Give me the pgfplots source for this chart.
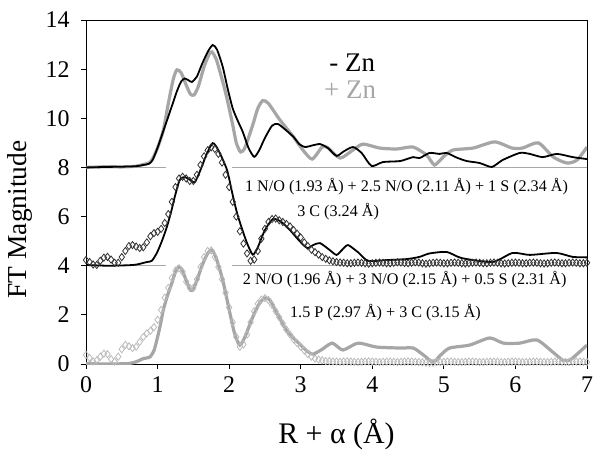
\documentclass[border=0pt]{standalone}
\usepackage{pgfplots}
\pgfplotsset{compat=1.18}
\usepackage{fontspec}
\setmainfont{Liberation Serif}

\definecolor{lgray}{HTML}{A6A6A6}
\definecolor{dgray}{HTML}{333333}
\definecolor{pgray}{HTML}{BBBBBB}

% -Zn, shifted by 8
\pgfplotstableread{
x y
0 8.0
0.3 8.02
0.5 8.03
0.7 8.05
0.8 8.1
0.88 8.15
0.93 8.3
1.0 8.8
1.07 9.4
1.13 9.9
1.2 10.5
1.27 11.1
1.33 11.5
1.38 11.62
1.43 11.55
1.48 11.48
1.55 11.7
1.62 12.2
1.7 12.7
1.77 12.98
1.83 12.8
1.91 12.1
1.98 11.2
2.05 10.4
2.12 9.9
2.19 9.45
2.27 8.8
2.35 8.43
2.42 8.7
2.5 9.2
2.6 9.7
2.68 9.77
2.78 9.55
2.9 9.24
2.98 8.95
3.06 8.83
3.17 8.9
3.27 8.95
3.38 8.79
3.5 8.47
3.6 8.65
3.73 8.83
3.85 8.59
3.99 8.06
4.15 8.22
4.39 8.26
4.57 8.42
4.66 8.38
4.8 8.59
4.94 8.55
5.04 8.59
5.18 8.4
5.32 8.26
5.5 8.18
5.67 8.02
5.82 8.3
6.06 8.59
6.2 8.55
6.38 8.42
6.58 8.55
6.8 8.42
7.0 8.34
}\minusZn

% +Zn, shifted by 8
\pgfplotstableread{
x y
0 8.0
0.3 8.03
0.5 8.02
0.7 8.05
0.8 8.12
0.88 8.18
0.93 8.35
1.0 8.8
1.08 9.5
1.15 10.6
1.22 11.6
1.27 11.97
1.33 11.85
1.4 11.35
1.46 10.98
1.51 10.95
1.57 11.3
1.65 12.1
1.72 12.6
1.76 12.7
1.82 12.4
1.9 11.6
1.97 10.8
2.05 9.73
2.1 9.0
2.16 8.63
2.22 8.8
2.33 9.73
2.4 10.4
2.47 10.72
2.55 10.6
2.71 9.93
2.9 9.24
3.03 8.71
3.16 8.34
3.3 8.83
3.38 8.8
3.55 8.38
3.73 8.71
3.87 8.95
4.1 8.79
4.34 8.75
4.57 8.83
4.76 8.5
4.87 8.1
5.0 8.45
5.13 8.71
5.41 8.79
5.71 9.04
5.95 8.79
6.1 8.79
6.32 9.0
6.53 8.42
6.72 8.18
6.86 8.3
7.0 8.83
}\plusZn

% -Zn fit, shifted by 4
\pgfplotstableread{
x y
0 4.03
0.3 4.0
0.6 4.02
0.71 4.05
0.85 4.15
0.92 4.2
0.99 4.52
1.06 5.0
1.13 5.58
1.19 6.2
1.24 6.8
1.31 7.5
1.38 7.61
1.45 7.5
1.52 7.4
1.6 7.9
1.68 8.5
1.77 8.99
1.85 8.7
1.97 7.9
2.04 7.0
2.11 6.15
2.18 5.5
2.25 4.92
2.33 4.45
2.4 4.75
2.5 5.45
2.61 5.9
2.72 5.8
2.85 5.45
2.97 5.05
3.09 4.72
3.18 4.85
3.27 4.92
3.4 4.65
3.5 4.44
3.58 4.65
3.66 4.84
3.8 4.55
3.94 4.2
4.2 4.23
4.48 4.27
4.66 4.36
4.8 4.5
5.04 4.56
5.25 4.31
5.68 4.15
5.96 4.52
6.2 4.44
6.57 4.52
6.8 4.36
7.0 4.34
}\minusFit

% -Zn data, shifted by 4
\pgfplotstableread{
x y
0.00 4.23
0.05 4.15
0.10 4.05
0.15 4.03
0.20 4.2
0.25 4.33
0.30 4.36
0.35 4.25
0.40 4.12
0.45 4.12
0.50 4.35
0.55 4.6
0.60 4.8
0.65 4.84
0.70 4.78
0.75 4.72
0.80 4.75
0.85 4.95
0.90 5.2
0.95 5.33
1.00 5.38
1.05 5.5
1.10 5.74
1.15 6.1
1.20 6.6
1.25 7.2
1.30 7.55
1.35 7.62
1.40 7.55
1.45 7.45
1.50 7.45
1.55 7.7
1.60 8.1
1.65 8.45
1.70 8.7
1.75 8.82
1.80 8.75
1.85 8.55
1.90 8.2
1.95 7.7
2.00 7.2
2.05 6.6
2.10 6.0
2.15 5.4
2.20 4.9
2.25 4.5
2.30 4.2
2.35 4.25
2.40 4.6
2.45 5.1
2.50 5.5
2.55 5.78
2.60 5.9
2.65 5.92
2.70 5.85
2.75 5.78
2.80 5.7
2.85 5.6
2.90 5.45
2.95 5.3
3.00 5.15
3.05 4.95
3.10 4.8
3.15 4.65
3.20 4.55
3.25 4.45
3.30 4.35
3.35 4.28
3.40 4.22
3.45 4.18
3.50 4.15
3.55 4.13
3.60 4.12
3.65 4.1
3.70 4.1
3.75 4.12
3.80 4.13
3.85 4.12
3.90 4.1
3.95 4.08
4.00 4.1
4.05 4.12
4.10 4.13
4.15 4.12
4.20 4.1
4.25 4.1
4.30 4.12
4.35 4.14
4.40 4.13
4.45 4.11
4.50 4.1
4.55 4.12
4.60 4.14
4.65 4.13
4.70 4.1
4.75 4.08
4.80 4.1
4.85 4.12
4.90 4.13
4.95 4.12
5.00 4.1
5.05 4.1
5.10 4.12
5.15 4.13
5.20 4.12
5.25 4.1
5.30 4.09
5.35 4.1
5.40 4.12
5.45 4.13
5.50 4.12
5.55 4.1
5.60 4.1
5.65 4.12
5.70 4.13
5.75 4.12
5.80 4.1
5.85 4.09
5.90 4.1
5.95 4.12
6.00 4.13
6.05 4.12
6.10 4.1
6.15 4.1
6.20 4.12
6.25 4.13
6.30 4.12
6.35 4.1
6.40 4.09
6.45 4.1
6.50 4.12
6.55 4.13
6.60 4.12
6.65 4.1
6.70 4.1
6.75 4.12
6.80 4.13
6.85 4.12
6.90 4.1
6.95 4.1
7.00 4.12
}\minusData

% +Zn fit
\pgfplotstableread{
x y
0 0.02
0.3 0.0
0.6 0.02
0.71 0.1
0.8 0.22
0.89 0.28
0.95 0.55
0.99 0.98
1.04 1.6
1.08 2.2
1.14 2.8
1.2 3.3
1.25 3.75
1.29 3.95
1.34 3.85
1.4 3.4
1.45 3.05
1.49 3.0
1.55 3.4
1.62 4.0
1.7 4.5
1.76 4.64
1.82 4.3
1.91 3.42
2.01 2.08
2.08 1.2
2.15 0.77
2.22 1.1
2.33 1.91
2.42 2.45
2.5 2.69
2.57 2.6
2.68 2.0
2.8 1.38
2.9 1.05
2.99 0.8
3.08 0.55
3.17 0.4
3.3 0.6
3.44 0.85
3.59 0.57
3.8 0.85
4.06 0.69
4.39 0.65
4.57 0.65
4.7 0.4
4.85 0.08
4.95 0.35
5.08 0.65
5.36 0.77
5.64 1.06
5.83 0.85
6.06 0.85
6.3 0.98
6.52 0.49
6.66 0.16
6.76 0.16
6.88 0.45
7.0 0.77
}\plusFit

% +Zn data
\pgfplotstableread{
x y
0.00 0.37
0.05 0.25
0.10 0.1
0.15 0.15
0.20 0.3
0.25 0.42
0.30 0.4
0.35 0.2
0.40 0.1
0.45 0.3
0.50 0.6
0.55 0.78
0.60 0.72
0.65 0.65
0.70 0.7
0.75 0.9
0.80 1.1
0.85 1.25
0.90 1.35
0.95 1.5
1.00 1.8
1.05 2.2
1.10 2.7
1.15 3.1
1.20 3.5
1.25 3.8
1.30 3.9
1.35 3.75
1.40 3.35
1.45 3.1
1.50 3.1
1.55 3.45
1.60 3.95
1.65 4.35
1.70 4.6
1.75 4.62
1.80 4.35
1.85 3.95
1.90 3.45
1.95 2.9
2.00 2.3
2.05 1.7
2.10 1.1
2.15 0.7
2.20 0.8
2.25 1.2
2.30 1.7
2.35 2.15
2.40 2.45
2.45 2.62
2.50 2.68
2.55 2.6
2.60 2.4
2.65 2.15
2.70 1.9
2.75 1.65
2.80 1.4
2.85 1.2
2.90 1.0
2.95 0.85
3.00 0.7
3.05 0.55
3.10 0.4
3.15 0.3
3.20 0.22
3.25 0.18
3.30 0.15
3.35 0.12
3.40 0.12
3.45 0.1
3.50 0.1
3.55 0.09
3.60 0.1
3.65 0.11
3.70 0.1
3.75 0.09
3.80 0.08
3.85 0.09
3.90 0.1
3.95 0.11
4.00 0.1
4.05 0.09
4.10 0.08
4.15 0.09
4.20 0.1
4.25 0.1
4.30 0.09
4.35 0.08
4.40 0.09
4.45 0.1
4.50 0.11
4.55 0.1
4.60 0.09
4.65 0.08
4.70 0.07
4.75 0.06
4.80 0.05
4.85 0.05
4.90 0.07
4.95 0.08
5.00 0.09
5.05 0.1
5.10 0.1
5.15 0.09
5.20 0.08
5.25 0.08
5.30 0.09
5.35 0.1
5.40 0.1
5.45 0.09
5.50 0.08
5.55 0.08
5.60 0.09
5.65 0.1
5.70 0.1
5.75 0.09
5.80 0.08
5.85 0.08
5.90 0.09
5.95 0.1
6.00 0.1
6.05 0.09
6.10 0.08
6.15 0.08
6.20 0.09
6.25 0.1
6.30 0.1
6.35 0.09
6.40 0.08
6.45 0.08
6.50 0.09
6.55 0.1
6.60 0.1
6.65 0.09
6.70 0.08
6.75 0.08
6.80 0.09
6.85 0.1
6.90 0.1
6.95 0.09
7.00 0.08
}\plusData

\begin{document}
\begin{tikzpicture}
\begin{axis}[
    name=ax,
    width=501bp, height=344bp,
    scale only axis,
    xmin=0, xmax=7, ymin=0, ymax=14,
    xtick={0,1,...,7}, ytick={0,2,...,14},
    tick align=outside,
    xtick pos=bottom, ytick pos=left,
    major tick length=5bp,
    tick style={black, line width=0.8bp},
    axis line style={line width=0.8bp},
    /pgf/number format/assume math mode=true,
    ticklabel style={font=\fontsize{24}{26}\selectfont},
    yticklabel style={xshift=-8bp},
    xticklabel style={yshift=-4bp},
    xlabel={R + α (Å)},
    ylabel={FT Magnitude},
    xlabel style={font=\fontsize{30}{32}\selectfont, yshift=-19bp},
    ylabel style={font=\fontsize{27.5}{30}\selectfont, at={(ticklabel cs:0.42)}, yshift=6bp},
    clip=true,
]
% baselines
\addplot[lgray, line width=1.4bp] coordinates {(0,8) (1.12,8)};
\addplot[lgray, line width=1.4bp] coordinates {(2.04,8) (7,8)};
\addplot[lgray, line width=1.4bp] coordinates {(0,4) (1.12,4)};
\addplot[lgray, line width=1.4bp] coordinates {(2.04,4) (7,4)};

% top pair
\addplot[lgray, line width=3.2bp, smooth, tension=0.4] table {\plusZn};
\addplot[black, line width=1.8bp, smooth, tension=0.4] table {\minusZn};

% middle: data + fit
\addplot[only marks, mark=diamond, mark size=3.6bp,
         mark options={draw=dgray, fill=white, line width=0.8bp}] table {\minusData};
\addplot[black, line width=1.8bp, smooth, tension=0.4] table {\minusFit};

% bottom: data + fit
\addplot[only marks, mark=diamond, mark size=3.6bp,
         mark options={draw=pgray, fill=white, line width=0.8bp}] table {\plusData};
\addplot[lgray, line width=3.2bp, smooth, tension=0.4] table {\plusFit};

\node[font=\fontsize{27}{29}\selectfont] at (axis cs:3.72,12.25) {- Zn};
\node[font=\fontsize{27}{29}\selectfont, text=lgray] at (axis cs:3.69,11.15) {+ Zn};

\node[anchor=west, font=\fontsize{16.2}{18}\selectfont, inner sep=0pt] at (axis cs:2.22,7.24)
  {1 N/O (1.93 Å) + 2.5 N/O (2.11 Å) + 1 S (2.34 Å)};
\node[anchor=west, font=\fontsize{16.2}{18}\selectfont, inner sep=0pt] at (axis cs:2.95,6.19)
  {3 C (3.24 Å)};
\node[anchor=west, font=\fontsize{16.2}{18}\selectfont, inner sep=0pt] at (axis cs:2.19,3.42)
  {2 N/O (1.96 Å) + 3 N/O (2.15 Å) + 0.5 S (2.31 Å)};
\node[anchor=west, font=\fontsize{16.2}{18}\selectfont, inner sep=0pt] at (axis cs:2.85,2.08)
  {1.5 P (2.97 Å) + 3 C (3.15 Å)};
\end{axis}
\pgfresetboundingbox
\path[use as bounding box] ([xshift=-86bp,yshift=-91bp]ax.south west)
  rectangle ([xshift=14bp,yshift=20bp]ax.north east);
\end{tikzpicture}
\end{document}
